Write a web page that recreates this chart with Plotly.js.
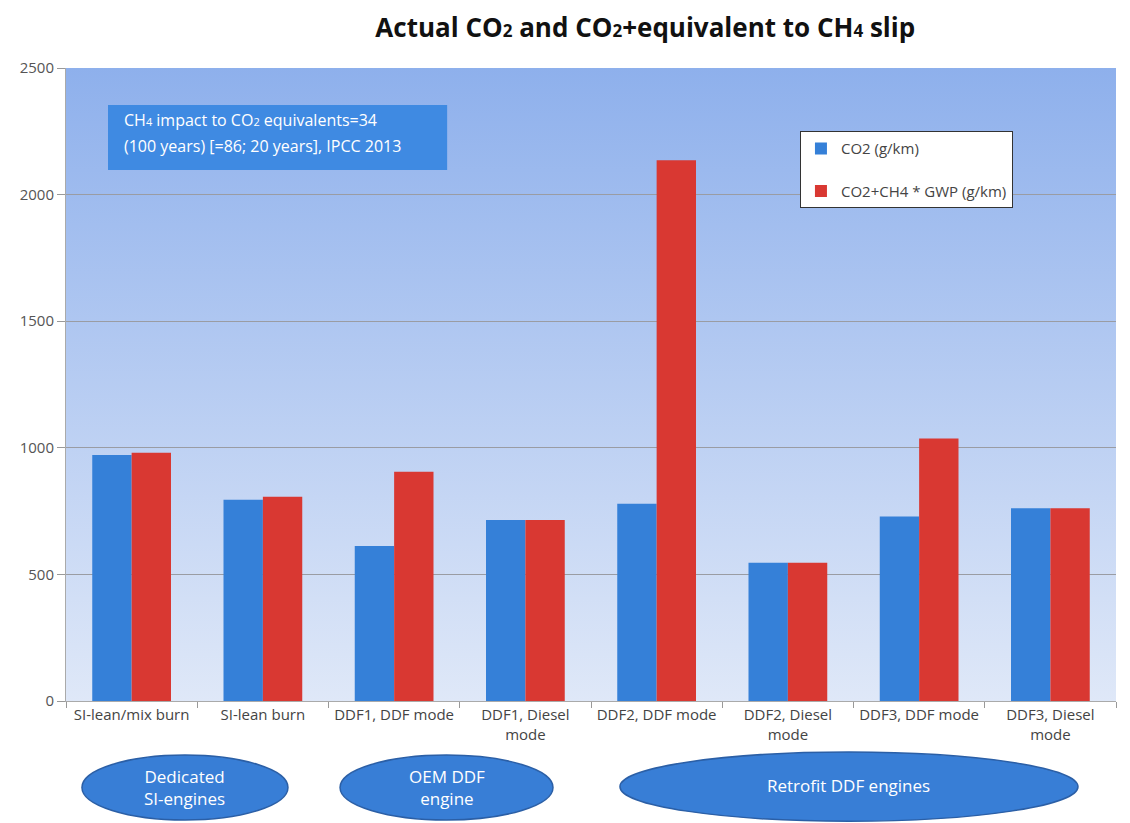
<!DOCTYPE html>
<html>
<head>
<meta charset="utf-8">
<script src="https://cdn.plot.ly/plotly-3.0.1.min.js"></script>
<style>html,body{margin:0;padding:0;background:#fff;}#chart{width:1130px;height:823px;}</style>
</head>
<body>
<div id="chart"></div>
<script>
const categories = ["SI-lean/mix burn", "SI-lean burn", "DDF1, DDF mode", "DDF1, Diesel<br>mode",
  "DDF2, DDF mode", "DDF2, Diesel<br>mode", "DDF3, DDF mode", "DDF3, Diesel<br>mode"];
const co2 = [972, 795, 612, 715, 779, 546, 729, 761];
const co2eq = [980, 807, 905, 715, 2136, 546, 1037, 761];
const seriesNames = ["CO2 (g/km)", "CO2+CH4 * GWP (g/km)"];
const groupLabels = ["Dedicated<br>SI-engines", "OEM DDF<br>engine", "Retrofit DDF engines"];
const noteLines = ["CH<span style=\"font-size:11px\">4</span> impact to CO<span style=\"font-size:11px\">2</span> equivalents=34",
  "(100 years) [=86; 20 years], IPCC 2013"];
const yTicks = [0, 500, 1000, 1500, 2000, 2500];

const FONT = "'Open Sans', Lato, sans-serif";
const bgSvg = '<svg xmlns="http://www.w3.org/2000/svg" width="100" height="100" preserveAspectRatio="none">' +
  '<defs><linearGradient id="g" x1="0" y1="0" x2="0" y2="1">' +
  '<stop offset="0" stop-color="#8eb0ec"/><stop offset="1" stop-color="#dfe8f8"/></linearGradient></defs>' +
  '<rect width="100" height="100" fill="url(#g)"/></svg>';

const traces = [
  {type: "bar", x: categories, y: co2, name: seriesNames[0], legendgroup: "a",
   marker: {color: "#3580d8"}},
  {type: "bar", x: categories, y: co2eq, name: seriesNames[1], legendgroup: "b",
   marker: {color: "#d93832"}}
];

const ell = (x0, x1, y0, y1) => ({type: "circle", xref: "paper", yref: "paper", x0, x1, y0, y1,
  fillcolor: "#387ed6", line: {color: "#2b5fa6", width: 1.5}, layer: "below"});

const sub = s => '<span style="font-size:17px">' + s + '</span>';

const layout = {
  width: 1130, height: 823,
  margin: {l: 66, r: 14, t: 68, b: 122},
  paper_bgcolor: "#ffffff",
  plot_bgcolor: "rgba(0,0,0,0)",
  font: {family: FONT, color: "#444"},
  title: {text: "<b>Actual CO" + sub("2") + " and CO" + sub("2") + "+equivalent to CH" + sub("4") + " slip</b>",
    font: {size: 26, color: "#111", family: FONT}, x: 0.571, xanchor: "center", y: 0.966, yanchor: "middle"},
  barmode: "group", bargap: 0.4, bargroupgap: 0,
  images: [{source: "data:image/svg+xml;charset=utf-8," + encodeURIComponent(bgSvg),
    xref: "paper", yref: "paper", x: 0, y: 1, sizex: 1, sizey: 1, sizing: "stretch",
    xanchor: "left", yanchor: "top", layer: "below"}],
  xaxis: {type: "category", tickson: "boundaries", ticks: "outside", ticklen: 6, tickcolor: "#999",
    showline: true, linecolor: "#aaa", tickangle: 0, tickfont: {size: 15, color: "#444"}, showgrid: false},
  yaxis: {range: [0, 2500], tickvals: yTicks, ticktext: yTicks.map(String), ticks: "outside", ticklen: 8,
    tickcolor: "#999", showline: true, linecolor: "#aaa", gridcolor: "#9a9ca3", gridwidth: 1,
    zeroline: false, tickfont: {size: 15, color: "#555"}},
  legend: {x: 0.699, y: 0.9, xanchor: "left", yanchor: "top", bgcolor: "#ffffff",
    bordercolor: "#333", borderwidth: 1, font: {size: 15, color: "#444"}, tracegroupgap: 20,
    itemwidth: 30},
  shapes: [
    {type: "rect", xref: "paper", yref: "paper", x0: 0.04, x1: 0.363, y0: 0.839, y1: 0.9415,
     fillcolor: "#3f8ae2", line: {width: 0}, layer: "above"},
    ell(0.0152, 0.2114, -0.188, -0.0853), ell(0.261, 0.4638, -0.188, -0.0853),
    ell(0.5276, 0.9638, -0.19, -0.0806)],
  annotations: [
    {xref: "paper", yref: "paper", x: 0.053, y: 0.918, xanchor: "left", yanchor: "middle",
     text: noteLines[0], showarrow: false, font: {size: 16, color: "#ffffff", family: FONT}},
    {xref: "paper", yref: "paper", x: 0.053, y: 0.876, xanchor: "left", yanchor: "middle",
     text: noteLines[1], showarrow: false, font: {size: 16, color: "#ffffff", family: FONT}},
    {xref: "paper", yref: "paper", x: (0.0152 + 0.2114) / 2, y: -0.136, xanchor: "center", yanchor: "middle",
     text: groupLabels[0], showarrow: false, font: {size: 17, color: "#ffffff", family: FONT}},
    {xref: "paper", yref: "paper", x: (0.261 + 0.4638) / 2, y: -0.136, xanchor: "center", yanchor: "middle",
     text: groupLabels[1], showarrow: false, font: {size: 17, color: "#ffffff", family: FONT}},
    {xref: "paper", yref: "paper", x: (0.5276 + 0.9638) / 2, y: -0.133, xanchor: "center", yanchor: "middle",
     text: groupLabels[2], showarrow: false, font: {size: 17, color: "#ffffff", family: FONT}}
  ],
  showlegend: true
};

Plotly.newPlot("chart", traces, layout, {displayModeBar: false, responsive: false});
</script>
</body>
</html>
